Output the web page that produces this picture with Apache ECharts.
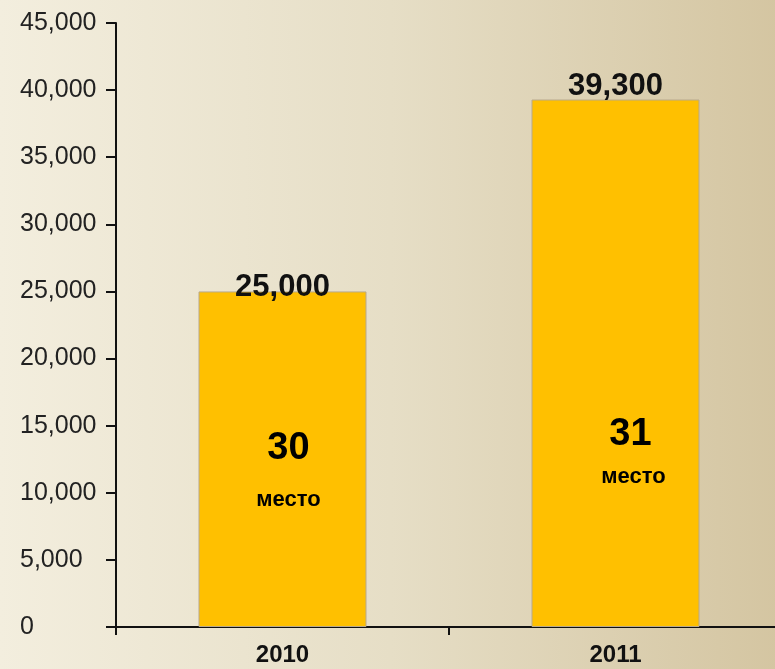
<!DOCTYPE html>
<html>
<head>
<meta charset="utf-8">
<script src="https://cdn.jsdelivr.net/npm/echarts@6/dist/echarts.min.js"></script>
<style>
  html, body { margin: 0; padding: 0; overflow: hidden; }
  /* график чуть шире окна: правый край оси уходит за кадр */
  #chart { width: 782px; height: 669px; }
</style>
</head>
<body>
<div id="chart"></div>
<script>
  // данные
  var years = ['2010', '2011'];
  var amounts = [25000, 39300];
  var ranks = ['30', '31'];
  var rankWord = 'место';
  var rankAt = [13280, 14350];   // где стоит число места (по оси Y)
  var wordAt = [9450, 11150];    // где стоит слово "место"

  var font = '"Liberation Sans", Arial, sans-serif';
  var chart = echarts.init(document.getElementById('chart'));

  function rankPoints(vals, txt, dx) {
    return vals.map(function(v, i) {
      return {
        value: [i, v],
        label: { offset: [dx[i], 0], formatter: txt ? txt : ranks[i] }
      };
    });
  }

  chart.setOption({
    animation: false,
    backgroundColor: new echarts.graphic.LinearGradient(0, 0, 1, 0, [
      { offset: 0, color: '#f3eede' },
      { offset: 0.5, color: '#e6dec6' },
      { offset: 1, color: '#d4c5a1' }
    ]),
    grid: { left: 116, right: 0, top: 23, bottom: 42 },
    xAxis: {
      type: 'category',
      data: years,
      axisLine: { lineStyle: { color: '#111', width: 2 } },
      axisTick: { show: true, interval: 0, length: 8, lineStyle: { color: '#111', width: 2 } },
      axisLabel: { margin: 16, color: '#111', fontFamily: font, fontWeight: 'bold', fontSize: 24 }
    },
    yAxis: {
      type: 'value',
      min: 0,
      max: 45000,
      interval: 5000,
      splitLine: { show: false },
      axisLine: { show: true, lineStyle: { color: '#111', width: 2 } },
      axisTick: { show: true, length: 10, lineStyle: { color: '#111', width: 2 } },
      axisLabel: { margin: 96, align: 'left', padding: [4, 0, 0, 0], color: '#222', fontFamily: font, fontSize: 25 }
    },
    series: [
      {
        type: 'bar',
        barWidth: 168,
        itemStyle: { color: '#ffc000', borderColor: '#b8a98c', borderWidth: 1 },
        data: amounts.map(function(v, i) {
          return { value: v, label: { distance: i === 0 ? -12 : -2 } };
        }),
        label: {
          show: true,
          position: 'top',
          color: '#111',
          fontFamily: font,
          fontWeight: 'bold',
          fontSize: 31,
          formatter: function(p) { return echarts.format.addCommas(p.value); }
        }
      },
      {
        type: 'scatter',
        symbolSize: 0,
        silent: true,
        itemStyle: { opacity: 1 },
        data: rankPoints(rankAt, null, [6, 15]),
        label: { show: true, position: 'inside', color: '#000', textBorderWidth: 0, fontFamily: font, fontWeight: 'bold', fontSize: 38 }
      },
      {
        type: 'scatter',
        symbolSize: 0,
        silent: true,
        itemStyle: { opacity: 1 },
        data: rankPoints(wordAt, rankWord, [6, 18]),
        label: { show: true, position: 'inside', color: '#000', textBorderWidth: 0, fontFamily: font, fontWeight: 'bold', fontSize: 22 }
      }
    ]
  });
</script>
</body>
</html>
